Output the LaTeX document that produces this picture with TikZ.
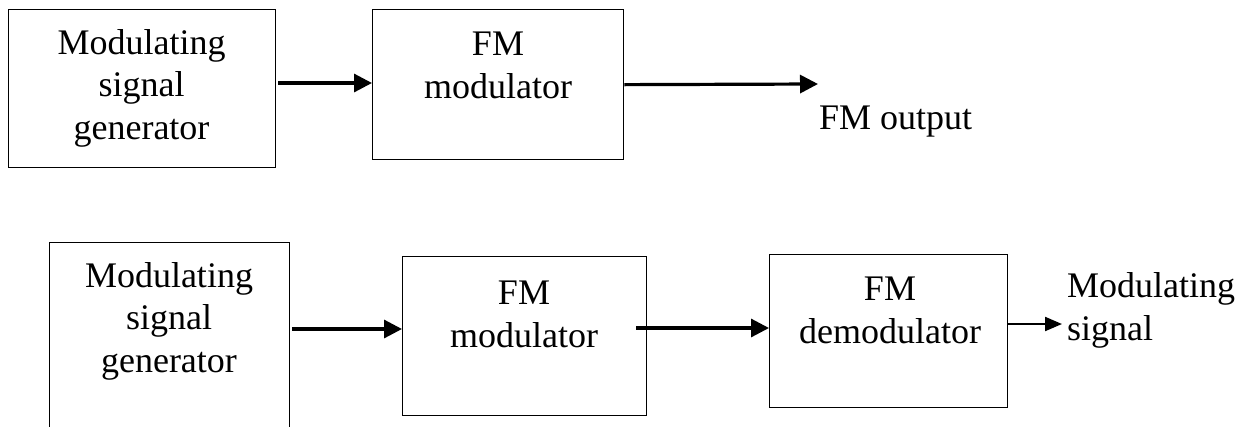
\documentclass[tikz,border=0pt]{standalone}
\usepackage{fontspec}
\setmainfont{Liberation Serif}
\usetikzlibrary{arrows.meta}
\begin{document}
\begin{tikzpicture}[x=1pt,y=-1pt,
  blk/.style={draw, line width=1.3pt, inner sep=0pt, anchor=north west},
  lbl/.style={font=\fontsize{36}{42.5}\selectfont, anchor=base, inner sep=0pt, align=center},
  arr/.style={line width=3.2pt, -{Triangle[length=18pt,width=18pt]}},
  arrs/.style={line width=2.2pt, -{Triangle[length=17pt,width=14pt]}}
]
\path[use as bounding box] (0,0) rectangle (1244,426);
% top row
\node[blk, minimum width=267pt, minimum height=158pt] (b1) at (8,9) {};
\node[blk, minimum width=251pt, minimum height=150pt] (b2) at (372,9) {};
\node[lbl] (t1) at (141.5,139) {Modulating\\signal\\generator};
\node[lbl] (t2) at (498,98) {FM\\modulator};
\coordinate (a1s) at (278,83);
\draw[arr] (a1s) -- (a1s -| b2.west);
\coordinate (out1) at (818,84);
\draw[arr] (b2.east) -- (out1);
\node[lbl, anchor=base west] (t3) at (819,129) {FM output};
% bottom row
\node[blk, minimum width=240pt, minimum height=190pt] (b3) at (49,242) {};
\node[blk, minimum width=244pt, minimum height=159pt] (b4) at (402,256) {};
\node[blk, minimum width=238pt, minimum height=153pt] (b5) at (769,254) {};
\node[lbl] (t4) at (169,372) {Modulating\\signal\\generator};
\node[lbl] (t5) at (524,347) {FM\\modulator};
\node[lbl] (t6) at (890,343) {FM\\demodulator};
\coordinate (a3s) at (292,329);
\draw[arr] (a3s) -- (a3s -| b4.west);
\coordinate (a4s) at (636,328);
\draw[arr] (a4s) -- (a4s -| b5.west);
\coordinate (out2) at (1062,324);
\draw[arrs] (b5.east |- out2) -- (out2);
\node[lbl, align=left, anchor=base west] (t7) at (1067,340) {Modulating\\signal};
\end{tikzpicture}
\end{document}
